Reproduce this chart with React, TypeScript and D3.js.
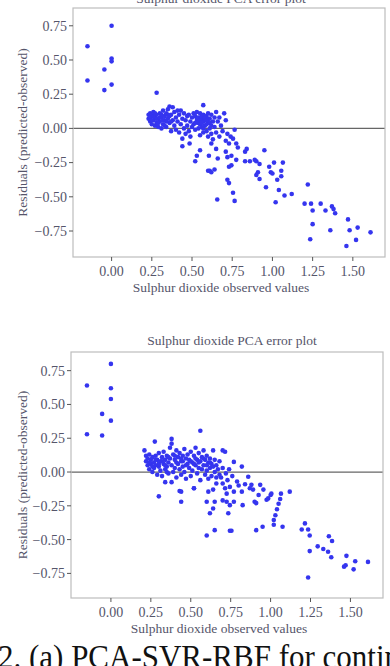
import React from "react";
import * as d3 from "d3";

const TITLE = "Sulphur dioxide PCA error plot";
const X_LABEL = "Sulphur dioxide observed values";
const Y_LABEL = "Residuals (predicted-observed)";
const CAPTION = "2. (a) PCA-SVR-RBF for continuous";
const X_TICKS = [0, 0.25, 0.5, 0.75, 1.0, 1.25, 1.5];
const Y_TICKS = [-0.75, -0.5, -0.25, 0, 0.25, 0.5, 0.75];

// Top panel residuals: [observed, residual]
const topPoints: [number, number][] = [
  [-0.15, 0.6], [-0.15, 0.35], [-0.045, 0.43], [-0.045, 0.28], [0.0, 0.75], [0.0, 0.51], [0.0, 0.49], [0.0, 0.32], [0.28, 0.26],
  [0.23, 0.1], [0.23, 0.07], [0.24, 0.11], [0.24, 0.05], [0.25, 0.09], [0.25, 0.03], [0.26, 0.12], [0.26, 0.06], [0.27, 0.08], [0.27, 0.02],
  [0.28, 0.1], [0.28, 0.04], [0.29, 0.07], [0.29, 0.01], [0.3, 0.11], [0.3, 0.05], [0.31, 0.08], [0.31, 0.0], [0.32, 0.13], [0.32, 0.03],
  [0.33, 0.09], [0.33, 0.06], [0.34, 0.11], [0.34, 0.01], [0.35, 0.07], [0.35, 0.14], [0.36, 0.04], [0.36, 0.16], [0.37, 0.1], [0.37, -0.02],
  [0.38, 0.155], [0.38, 0.06], [0.39, 0.12], [0.39, 0.02], [0.4, 0.08], [0.4, -0.01], [0.24, 0.08], [0.26, 0.09], [0.28, 0.07], [0.3, 0.08],
  [0.32, 0.06], [0.34, 0.05], [0.35, 0.1], [0.37, 0.05], [0.25, 0.06], [0.27, 0.11], [0.29, 0.04], [0.31, 0.1], [0.33, 0.02], [0.36, 0.09],
  [0.41, 0.13], [0.41, 0.05], [0.42, 0.1], [0.42, -0.03], [0.43, 0.13], [0.43, 0.03], [0.44, 0.07], [0.44, -0.075], [0.45, 0.11], [0.45, 0.0],
  [0.46, 0.06], [0.46, -0.04], [0.47, 0.09], [0.47, 0.02], [0.48, 0.1], [0.48, -0.02], [0.49, 0.05], [0.49, -0.06], [0.5, 0.08], [0.5, 0.01],
  [0.51, 0.11], [0.51, 0.03], [0.52, 0.09], [0.52, -0.01], [0.53, 0.12], [0.53, 0.05], [0.54, 0.08], [0.54, 0.0], [0.55, 0.11], [0.55, 0.03],
  [0.55, -0.05], [0.56, 0.07], [0.56, 0.01], [0.57, 0.17], [0.57, 0.1], [0.57, -0.03], [0.58, 0.06], [0.58, 0.02], [0.59, 0.09], [0.59, -0.02],
  [0.6, 0.11], [0.6, 0.04], [0.6, -0.06], [0.61, 0.07], [0.61, 0.0], [0.62, 0.1], [0.62, -0.04], [0.63, 0.05], [0.63, -0.08], [0.64, 0.08],
  [0.64, 0.01], [0.65, 0.12], [0.65, -0.03], [0.53, 0.07], [0.54, 0.04], [0.56, 0.09], [0.57, 0.05], [0.58, 0.08], [0.59, 0.03], [0.6, 0.07],
  [0.61, 0.04], [0.62, 0.02], [0.55, 0.06], [0.57, 0.0], [0.59, 0.06], [0.52, 0.04], [0.56, 0.04],
  [0.66, 0.05], [0.67, 0.08], [0.67, -0.06], [0.68, 0.02], [0.69, -0.02], [0.7, 0.11], [0.71, 0.06], [0.71, -0.09], [0.72, -0.04], [0.73, -0.11],
  [0.74, -0.06], [0.755, -0.075], [0.765, -0.01], [0.775, -0.11], [0.785, -0.14],
  [0.44, -0.13], [0.485, -0.11], [0.52, -0.24], [0.53, -0.2], [0.55, -0.16], [0.605, -0.2], [0.6, -0.31], [0.61, -0.31], [0.62, -0.32], [0.64, -0.3],
  [0.62, -0.11], [0.65, -0.15], [0.66, -0.22], [0.657, -0.52], [0.71, -0.17], [0.72, -0.21], [0.72, -0.375], [0.73, -0.4], [0.73, -0.28], [0.745, -0.27],
  [0.745, -0.2], [0.755, -0.47], [0.765, -0.53], [0.775, -0.23], [0.83, -0.24], [0.83, -0.17], [0.84, -0.15], [0.86, -0.24], [0.89, -0.23], [0.9, -0.24],
  [0.92, -0.26], [0.91, -0.32], [0.9, -0.34], [0.92, -0.37], [0.95, -0.16], [0.96, -0.43], [0.98, -0.28], [0.99, -0.32], [1.0, -0.33], [1.01, -0.25],
  [1.065, -0.25], [1.03, -0.375], [1.04, -0.45], [1.055, -0.31], [1.055, -0.35], [1.02, -0.54], [1.075, -0.49], [1.12, -0.48],
  [1.22, -0.41], [1.2, -0.55], [1.24, -0.55], [1.25, -0.6], [1.25, -0.7], [1.235, -0.81], [1.3, -0.55], [1.33, -0.6], [1.37, -0.57], [1.38, -0.59],
  [1.39, -0.62], [1.36, -0.745], [1.47, -0.665], [1.48, -0.745], [1.53, -0.725], [1.52, -0.815], [1.46, -0.86], [1.61, -0.76],
];

// Bottom panel residuals: [observed, residual]
const bottomPoints: [number, number][] = [
  [-0.15, 0.64], [-0.15, 0.28], [-0.055, 0.43], [-0.055, 0.27], [0.0, 0.8], [0.0, 0.62], [0.0, 0.54], [0.0, 0.38],
  [0.21, 0.16], [0.22, 0.12], [0.22, 0.08], [0.23, 0.1], [0.23, 0.05], [0.24, 0.13], [0.24, 0.02], [0.25, 0.09], [0.25, 0.06], [0.26, 0.11],
  [0.26, 0.0], [0.27, 0.07], [0.27, 0.03], [0.275, 0.225], [0.28, 0.12], [0.28, 0.05], [0.29, 0.09], [0.29, -0.02], [0.3, 0.14], [0.3, 0.04],
  [0.31, 0.08], [0.31, 0.01], [0.32, 0.11], [0.32, -0.03], [0.33, 0.06], [0.33, 0.15], [0.34, 0.09], [0.34, 0.02], [0.34, -0.075], [0.35, 0.12],
  [0.35, 0.04], [0.36, 0.07], [0.36, -0.01], [0.37, 0.18], [0.37, 0.1], [0.38, 0.245], [0.38, 0.21], [0.38, 0.05], [0.38, -0.075], [0.39, 0.13],
  [0.39, 0.0], [0.4, 0.09], [0.4, 0.03], [0.41, 0.16], [0.41, -0.04], [0.42, 0.11], [0.42, 0.06], [0.43, 0.02], [0.43, 0.14], [0.43, -0.14],
  [0.44, 0.08], [0.44, -0.02], [0.45, 0.12], [0.45, 0.04], [0.46, 0.17], [0.46, 0.0], [0.47, 0.1], [0.47, -0.05], [0.48, 0.06], [0.48, 0.13],
  [0.49, 0.03], [0.49, 0.09], [0.5, 0.15], [0.5, -0.03], [0.51, 0.07], [0.51, 0.01], [0.52, 0.12], [0.52, -0.12], [0.53, 0.05], [0.53, 0.18],
  [0.54, 0.09], [0.54, -0.01], [0.55, 0.14], [0.55, 0.03], [0.56, 0.305], [0.56, 0.08], [0.56, -0.06], [0.57, 0.11], [0.57, 0.02], [0.58, 0.16],
  [0.58, 0.05], [0.59, 0.09], [0.59, -0.02], [0.6, 0.12], [0.6, 0.01], [0.61, 0.07], [0.61, -0.05], [0.62, 0.1], [0.62, 0.03], [0.63, 0.06],
  [0.63, -0.03], [0.64, 0.16], [0.64, 0.04], [0.65, 0.09], [0.65, 0.0], [0.66, 0.05], [0.66, -0.04], [0.67, 0.02], [0.68, 0.08], [0.68, -0.02],
  [0.24, 0.07], [0.26, 0.04], [0.28, 0.09], [0.3, 0.06], [0.32, 0.08], [0.34, 0.05], [0.36, 0.11], [0.41, 0.07], [0.44, 0.1], [0.47, 0.05],
  [0.5, 0.08], [0.53, 0.1], [0.55, 0.07], [0.58, 0.1], [0.6, 0.05], [0.62, 0.07], [0.45, 0.08], [0.52, 0.06], [0.4, 0.12], [0.35, 0.0],
  [0.7, 0.16], [0.715, 0.15], [0.7, 0.03], [0.72, -0.01], [0.74, 0.02], [0.77, 0.075], [0.82, 0.04], [0.69, -0.04], [0.73, -0.06], [0.76, -0.03],
  [0.79, -0.07], [0.8, -0.1], [0.84, -0.09], [0.87, -0.12],
  [0.3, -0.18], [0.44, -0.145], [0.44, -0.22], [0.52, -0.12], [0.6, -0.22], [0.6, -0.47], [0.62, -0.305], [0.64, -0.27], [0.65, -0.43], [0.65, -0.22],
  [0.61, -0.145], [0.64, -0.13], [0.66, -0.085], [0.7, -0.085], [0.715, -0.12], [0.725, -0.16], [0.745, -0.11], [0.77, -0.145], [0.7, -0.21], [0.725, -0.22],
  [0.745, -0.245], [0.735, -0.305], [0.77, -0.22], [0.745, -0.435], [0.755, -0.435], [0.82, -0.145], [0.825, -0.245], [0.86, -0.035], [0.88, -0.095], [0.89, -0.13],
  [0.9, -0.22], [0.91, -0.23], [0.925, -0.17], [0.935, -0.095], [0.955, -0.13], [0.91, -0.43], [0.95, -0.405], [0.975, -0.205], [0.985, -0.195], [1.0, -0.17],
  [1.005, -0.16], [1.02, -0.39], [1.02, -0.355], [1.03, -0.32], [1.04, -0.275], [1.05, -0.235], [1.06, -0.2], [1.065, -0.16], [1.075, -0.405], [1.12, -0.145],
  [1.195, -0.425], [1.215, -0.38], [1.235, -0.425], [1.245, -0.47], [1.245, -0.585], [1.295, -0.55], [1.33, -0.57], [1.36, -0.59], [1.38, -0.63], [1.235, -0.78],
  [1.365, -0.475], [1.385, -0.51], [1.475, -0.62], [1.53, -0.66], [1.61, -0.665], [1.46, -0.7], [1.47, -0.69], [1.52, -0.72],
];

const FONT = "'Liberation Serif', 'DejaVu Serif', serif";
const TEXT = "#55556a";
const DOT = "#3535ef";

type PanelProps = {
  points: [number, number][];
  left: number; right: number; top: number; bottom: number;
  xDomain: [number, number]; yDomain: [number, number];
  titleX: number; titleY: number;
};

function Panel({ points, left, right, top, bottom, xDomain, yDomain, titleX, titleY }: PanelProps) {
  const x = d3.scaleLinear().domain(xDomain).range([left, right]);
  const y = d3.scaleLinear().domain(yDomain).range([bottom, top]);
  const fmt = d3.format(".2f");
  return (
    <g>
      <text x={titleX} y={titleY} textAnchor="middle" fontFamily={FONT} fontSize={13.5} fill={TEXT}>{TITLE}</text>
      <line x1={left} x2={right} y1={y(0)} y2={y(0)} stroke="#666" strokeWidth={1.3} />
      {points.map((p, i) => (
        <circle key={i} cx={x(p[0])} cy={y(p[1])} r={2.3} fill={DOT} />
      ))}
      <rect x={left} y={top} width={right - left} height={bottom - top} fill="none" stroke="#bdbdbd" strokeWidth={1.2} />
      {Y_TICKS.map((t) => (
        <g key={"y" + t}>
          <line x1={left - 4} x2={left} y1={y(t)} y2={y(t)} stroke="#555" strokeWidth={1} />
          <text x={left - 6} y={y(t)} dy="0.35em" textAnchor="end" fontFamily={FONT} fontSize={14} fill={TEXT}>{fmt(t)}</text>
        </g>
      ))}
      {X_TICKS.map((t) => (
        <g key={"x" + t}>
          <line x1={x(t)} x2={x(t)} y1={bottom} y2={bottom + 4} stroke="#555" strokeWidth={1} />
          <text x={x(t)} y={bottom + 19} textAnchor="middle" fontFamily={FONT} fontSize={14} fill={TEXT}>{fmt(t)}</text>
        </g>
      ))}
      <text x={(left + right) / 2 - 8} y={bottom + 35} textAnchor="middle" fontFamily={FONT} fontSize={13.5} fill={TEXT}>{X_LABEL}</text>
      <text transform={`translate(27,${(top + bottom) / 2}) rotate(-90)`} textAnchor="middle" fontFamily={FONT} fontSize={13.5} fill={TEXT}>{Y_LABEL}</text>
    </g>
  );
}

export default function App() {
  return (
    <svg width={390} height={666} style={{ position: "absolute", left: 0, top: 0, background: "#fff" }}>
      <rect width={390} height={666} fill="#fff" />
      <Panel points={topPoints} left={73} right={385} top={8} bottom={257}
        xDomain={[-0.24, 1.70]} yDomain={[-0.94, 0.88]} titleX={221} titleY={3} />
      <Panel points={bottomPoints} left={71} right={383} top={352} bottom={598}
        xDomain={[-0.25, 1.704]} yDomain={[-0.932, 0.888]} titleX={232} titleY={345} />
      <text transform="translate(-2,668) scale(1,1.1)" fontFamily={FONT} fontSize={31} fill="#111">{CAPTION}</text>
    </svg>
  );
}
